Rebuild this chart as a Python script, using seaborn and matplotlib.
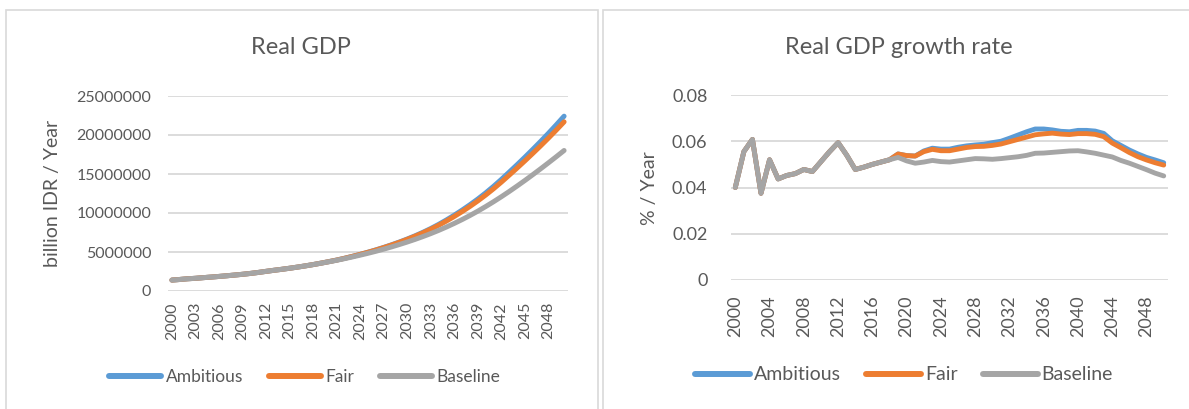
import matplotlib
matplotlib.use("Agg")
import matplotlib.pyplot as plt
from matplotlib.lines import Line2D
from matplotlib.patches import Rectangle
import pandas as pd
import seaborn as sns

# ---------------------------------------------------------------- data
years = list(range(2000, 2051))
scenarios = ["Ambitious", "Fair", "Baseline"]
colors = ["#5B9BD5", "#ED7D31", "#A5A5A5"]

# Real GDP, billion IDR per year
gdp_ambitious = [
    1400000, 1478000, 1568000, 1627000, 1711000, 1786000, 1867000, 1953000, 2046000, 2142000,
    2252000, 2377000, 2518000, 2654000, 2781000, 2917000, 3063000, 3219000, 3386000, 3570000,
    3763000, 3965000, 4193000, 4440000, 4699000, 4974000, 5267000, 5584000, 5919000, 6277000,
    6662000, 7074000, 7521000, 8006000, 8535000, 9108000, 9721000, 10371000, 11059000, 11789000,
    12573000, 13411000, 14302000, 15236000, 16181000, 17150000, 18146000, 19164000, 20212000, 21295000,
    22410000]
gdp_fair = [
    1400000, 1478000, 1568000, 1627000, 1711000, 1786000, 1867000, 1953000, 2046000, 2142000,
    2252000, 2377000, 2518000, 2654000, 2781000, 2917000, 3063000, 3219000, 3386000, 3570000,
    3763000, 3965000, 4192000, 4436000, 4692000, 4963000, 5252000, 5564000, 5894000, 6245000,
    6620000, 7022000, 7455000, 7922000, 8427000, 8972000, 9557000, 10183000, 10845000, 11548000,
    12300000, 13103000, 13956000, 14848000, 15754000, 16681000, 17631000, 18600000, 19597000, 20625000,
    21684000]
gdp_baseline = [
    1400000, 1478000, 1568000, 1627000, 1711000, 1786000, 1867000, 1953000, 2046000, 2142000,
    2252000, 2377000, 2518000, 2654000, 2781000, 2917000, 3063000, 3219000, 3386000, 3565000,
    3749000, 3938000, 4145000, 4365000, 4595000, 4836000, 5092000, 5365000, 5654000, 5959000,
    6279000, 6618000, 6978000, 7360000, 7768000, 8205000, 8668000, 9159000, 9681000, 10236000,
    10824000, 11440000, 12084000, 12755000, 13452000, 14168000, 14905000, 15659000, 16429000, 17213000,
    18013000]

# Real GDP growth rate, fraction per year
growth_ambitious = [
    0.0400, 0.0555, 0.0608, 0.0375, 0.0520, 0.0437, 0.0452, 0.0460, 0.0478, 0.0469,
    0.0512, 0.0555, 0.0594, 0.0540, 0.0478, 0.0488, 0.0500, 0.0510, 0.0520, 0.0545,
    0.0538, 0.0536, 0.0558, 0.0570, 0.0566, 0.0566, 0.0574, 0.0580, 0.0584, 0.0587,
    0.0594, 0.0600, 0.0613, 0.0627, 0.0641, 0.0653, 0.0653, 0.0649, 0.0643, 0.0641,
    0.0647, 0.0647, 0.0644, 0.0634, 0.0602, 0.0582, 0.0562, 0.0545, 0.0530, 0.0519,
    0.0507]
growth_fair = [
    0.0400, 0.0555, 0.0608, 0.0375, 0.0520, 0.0437, 0.0452, 0.0460, 0.0478, 0.0469,
    0.0512, 0.0555, 0.0594, 0.0540, 0.0478, 0.0488, 0.0500, 0.0510, 0.0520, 0.0545,
    0.0538, 0.0536, 0.0555, 0.0565, 0.0559, 0.0559, 0.0566, 0.0573, 0.0577, 0.0578,
    0.0582, 0.0588, 0.0598, 0.0608, 0.0618, 0.0628, 0.0632, 0.0635, 0.0631, 0.0629,
    0.0633, 0.0633, 0.0630, 0.0620, 0.0592, 0.0572, 0.0551, 0.0533, 0.0519, 0.0507,
    0.0497]
growth_baseline = [
    0.0400, 0.0555, 0.0608, 0.0375, 0.0520, 0.0437, 0.0452, 0.0460, 0.0478, 0.0469,
    0.0512, 0.0555, 0.0594, 0.0540, 0.0478, 0.0488, 0.0500, 0.0510, 0.0520, 0.0530,
    0.0515, 0.0505, 0.0510, 0.0517, 0.0512, 0.0510, 0.0515, 0.0520, 0.0525, 0.0524,
    0.0522, 0.0525, 0.0529, 0.0533, 0.0539, 0.0548, 0.0549, 0.0552, 0.0555, 0.0558,
    0.0559, 0.0554, 0.0548, 0.0540, 0.0532, 0.0517, 0.0505, 0.0491, 0.0477, 0.0462,
    0.0450]

gdp_ticks = [0, 5000000, 10000000, 15000000, 20000000, 25000000]
growth_ticks = [0, 0.02, 0.04, 0.06, 0.08]
growth_tick_labels = ["0", "0.02", "0.04", "0.06", "0.08"]


def long_frame(series):
    rows = []
    for name, values in zip(scenarios, series):
        for i, v in enumerate(values):
            rows.append({"pos": i, "year": years[i], "Scenario": name, "value": v})
    return pd.DataFrame(rows)


gdp_df = long_frame([gdp_ambitious, gdp_fair, gdp_baseline])
growth_df = long_frame([growth_ambitious, growth_fair, growth_baseline])

# ---------------------------------------------------------------- style
sns.set_theme(style="white")
plt.rcParams["font.family"] = ["Lato", "DejaVu Sans"]
TEXT = "#595959"
GRID = "#D9D9D9"
palette = dict(zip(scenarios, colors))

W, H = 1189, 409
fig = plt.figure(figsize=(W / 100, H / 100), dpi=100)


def px_axes(x0, x1, ytop, ybot):
    return fig.add_axes([x0 / W, 1 - ybot / H, (x1 - x0) / W, (ybot - ytop) / H])


# chart-area frames
for x0, x1 in [(6, 598), (603, 1195)]:
    fig.add_artist(Rectangle((x0 / W, -0.05), (x1 - x0) / W, 1.05 - 10 / H,
                             transform=fig.transFigure, fill=False,
                             edgecolor=GRID, linewidth=1.2))


def style_axes(ax, ticks, tick_labels, ytick_size, ypad, step, xtick_size, xpad):
    for s in ax.spines.values():
        s.set_visible(False)
    ax.set_xlim(-0.5, len(years) - 0.5)
    ax.set_ylim(ticks[0], ticks[-1])
    ax.set_yticks(ticks)
    ax.set_yticklabels(tick_labels)
    ax.yaxis.grid(True, color=GRID, linewidth=1.3)
    ax.xaxis.grid(False)
    ax.set_axisbelow(True)
    pos = list(range(0, len(years), step))
    ax.set_xticks(pos)
    ax.set_xticklabels([str(years[p]) for p in pos], rotation=90)
    ax.tick_params(axis="y", length=0, pad=ypad, labelsize=ytick_size, labelcolor=TEXT)
    ax.tick_params(axis="x", length=0, pad=xpad, labelsize=xtick_size, labelcolor=TEXT)
    ax.set_xlabel("")
    ax.set_ylabel("")


def legend_for(center, size, handlelength, textpad, colspace, lw):
    handles = [Line2D([], [], color=c, linewidth=lw, solid_capstyle="round") for c in colors]
    fig.legend(handles, scenarios, loc="center",
               bbox_to_anchor=(center[0] / W, 1 - center[1] / H),
               ncol=3, frameon=False, fontsize=size, labelcolor=TEXT,
               handlelength=handlelength, handletextpad=textpad, columnspacing=colspace,
               borderpad=0, borderaxespad=0)


# ---------------------------------------------------------------- Real GDP
ax1 = px_axes(168, 568, 96, 291)
sns.lineplot(data=gdp_df, x="pos", y="value", hue="Scenario", hue_order=scenarios,
             palette=palette, linewidth=3.6, legend=False, ax=ax1,
             solid_capstyle="round", solid_joinstyle="round")
style_axes(ax1, gdp_ticks, [str(t) for t in gdp_ticks], 11.5, 12, 3, 11.5, 8)
fig.text(301 / W, 1 - 47 / H, "Real GDP", ha="center", va="center",
         fontsize=17, color=TEXT)
fig.text(53 / W, 1 - 193 / H, "billion IDR / Year", ha="center", va="center",
         rotation=90, fontsize=14, color=TEXT)
legend_for((305, 377), 12.5, 3.0, 0.29, 1.44, 4.3)

# ---------------------------------------------------------------- growth rate
ax2 = px_axes(731, 1168, 95, 280)
sns.lineplot(data=growth_df, x="pos", y="value", hue="Scenario", hue_order=scenarios,
             palette=palette, linewidth=3.5, legend=False, ax=ax2,
             solid_capstyle="round", solid_joinstyle="round")
style_axes(ax2, growth_ticks, growth_tick_labels, 13, 17, 4, 13, 11)
fig.text(899 / W, 1 - 47 / H, "Real GDP growth rate", ha="center", va="center",
         fontsize=17, color=TEXT)
fig.text(649 / W, 1 - 188 / H, "% / Year", ha="center", va="center",
         rotation=90, fontsize=14, color=TEXT)
legend_for((904, 375), 14, 2.83, 0.2, 1.29, 4.3)

fig.savefig("out.png", dpi=100, facecolor="white")
